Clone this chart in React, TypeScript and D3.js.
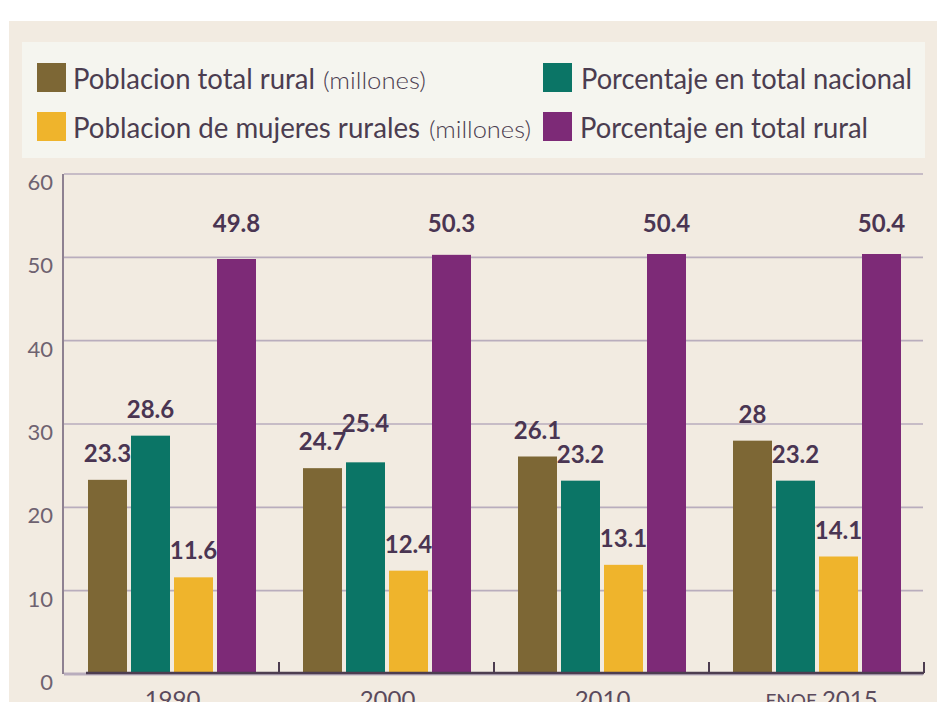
import React from "react";
import * as d3 from "d3";

const categories = ["1990", "2000", "2010", "ENOE 2015"];
const seriesNames = [
  "Poblacion total rural",
  "Porcentaje en total nacional",
  "Poblacion de mujeres rurales",
  "Porcentaje en total rural",
];
const poblacionTotalRural = [23.3, 24.7, 26.1, 28];
const porcentajeTotalNacional = [28.6, 25.4, 23.2, 23.2];
const poblacionMujeresRurales = [11.6, 12.4, 13.1, 14.1];
const porcentajeTotalRural = [49.8, 50.3, 50.4, 50.4];
const yTicks = [0, 10, 20, 30, 40, 50, 60];
const seriesColors = ["#7d6735", "#0b7566", "#efb42c", "#7d2a77"];

const W = 937;
const H = 702;
const FONT = "Lato, 'Open Sans', sans-serif";
const TEXT = "#4b3d50";

export default function App() {
  const seriesValues = [
    poblacionTotalRural,
    porcentajeTotalNacional,
    poblacionMujeresRurales,
    porcentajeTotalRural,
  ];
  const x = d3.scaleBand<string>().domain(categories).range([64, 924]).padding(0);
  const inner = d3
    .scaleBand<string>()
    .domain(seriesNames)
    .range([24, 192])
    .paddingInner(4 / 43)
    .paddingOuter(0);
  const y = d3.scaleLinear().domain([0, 60]).range([674, 174]);

  // label layout with simple collision avoidance
  const labels: { x: number; y: number; text: string; key: string }[] = [];
  categories.forEach((c, ci) => {
    const placed: { x: number; y: number }[] = [];
    seriesNames.forEach((s, si) => {
      const v = seriesValues[si][ci];
      const cx = (x(c) as number) + (inner(s) as number) + inner.bandwidth() / 2;
      let ly = si === 3 ? y(53) : y(v) - 18;
      const prev = placed[placed.length - 1];
      if (prev && Math.abs(prev.y - ly) < 20 && Math.abs(prev.x - cx) < 48) {
        ly = prev.y - 18;
      }
      placed.push({ x: cx, y: ly });
      labels.push({ x: cx, y: ly, text: String(v), key: c + s });
    });
  });

  const legendItems = [
    { name: seriesNames[0], color: seriesColors[0], sx: 37, sy: 63, tx: 73, tw: 242, by: 89, unit: { x: 323, w: 103 } },
    { name: seriesNames[1], color: seriesColors[1], sx: 543, sy: 63, tx: 581, tw: 331, by: 89, unit: null },
    { name: seriesNames[2], color: seriesColors[2], sx: 37, sy: 112, tx: 73, tw: 347, by: 138, unit: { x: 429, w: 102 } },
    { name: seriesNames[3], color: seriesColors[3], sx: 543, sy: 112, tx: 580, tw: 288, by: 138, unit: null },
  ];

  return (
    <svg
      width={W}
      height={H}
      style={{ position: "absolute", left: 0, top: 0, background: "#ffffff" }}
    >
      <rect x={9} y={21} width={W - 9} height={H - 21} fill="#f2ebe1" />
      <rect x={22} y={42} width={903} height={116} fill="#f5f5ef" />

      {legendItems.map((it) => (
        <g key={it.name}>
          <rect x={it.sx} y={it.sy} width={29} height={29} fill={it.color} />
          <text
            x={it.tx}
            y={it.by}
            fontFamily={FONT}
            fontSize={28}
            fill={TEXT}
            textLength={it.tw}
            lengthAdjust="spacingAndGlyphs"
          >
            {it.name}
          </text>
          {it.unit && (
            <text
              x={it.unit.x}
              y={it.by}
              fontFamily={FONT}
              fontSize={23}
              fill={TEXT}
              fontWeight={300}
              textLength={it.unit.w}
              lengthAdjust="spacingAndGlyphs"
            >
              (millones)
            </text>
          )}
        </g>
      ))}

      {/* gridlines */}
      {yTicks.map((t) => (
        <line
          key={t}
          x1={64}
          x2={923}
          y1={y(t)}
          y2={y(t)}
          stroke="#b9adbd"
          strokeWidth={t === 0 ? 3 : 1.6}
        />
      ))}
      {/* y axis */}
      <line x1={63} x2={63} y1={y(60)} y2={y(0)} stroke="#8e8191" strokeWidth={2} />
      {yTicks.map((t) => (
        <text
          key={"yl" + t}
          x={53}
          y={y(t) + 16}
          textAnchor="end"
          fontFamily={FONT}
          fontSize={22}
          fill="#6e6270"
        >
          {t}
        </text>
      ))}

      {/* bars */}
      {categories.map((c, ci) => (
        <g key={c} transform={`translate(${x(c)},0)`}>
          {seriesNames.map((s, si) => {
            const v = seriesValues[si][ci];
            return (
              <rect
                key={s}
                x={inner(s)}
                y={y(v)}
                width={inner.bandwidth()}
                height={y(0) - y(v)}
                fill={seriesColors[si]}
              />
            );
          })}
        </g>
      ))}

      {/* x axis */}
      <line x1={86} x2={924} y1={673} y2={673} stroke="#4d3d50" strokeWidth={2.5} />
      {categories.map((c) => (
        <line
          key={"t" + c}
          x1={(x(c) as number) + x.bandwidth()}
          x2={(x(c) as number) + x.bandwidth()}
          y1={662}
          y2={673}
          stroke="#4d3d50"
          strokeWidth={2}
        />
      ))}
      {categories.map((c) => {
        const cx = (x(c) as number) + x.bandwidth() / 2 + 1;
        if (c.startsWith("ENOE")) {
          const parts = c.split(" ");
          return (
            <text key={"xl" + c} x={cx + 4} y={708} textAnchor="middle" fontFamily={FONT} fill="#5a4a5c">
              <tspan fontSize={19}>{parts[0]} </tspan>
              <tspan fontSize={24}>{parts[1]}</tspan>
            </text>
          );
        }
        return (
          <text key={"xl" + c} x={cx} y={708} textAnchor="middle" fontFamily={FONT} fontSize={24} fill="#5a4a5c">
            {c}
          </text>
        );
      })}

      {/* value labels */}
      {labels.map((l) => (
        <text
          key={l.key}
          x={l.x}
          y={l.y}
          textAnchor="middle"
          fontFamily={FONT}
          fontWeight={700}
          fontSize={24}
          fill="#4a3552"
        >
          {l.text}
        </text>
      ))}
    </svg>
  );
}
